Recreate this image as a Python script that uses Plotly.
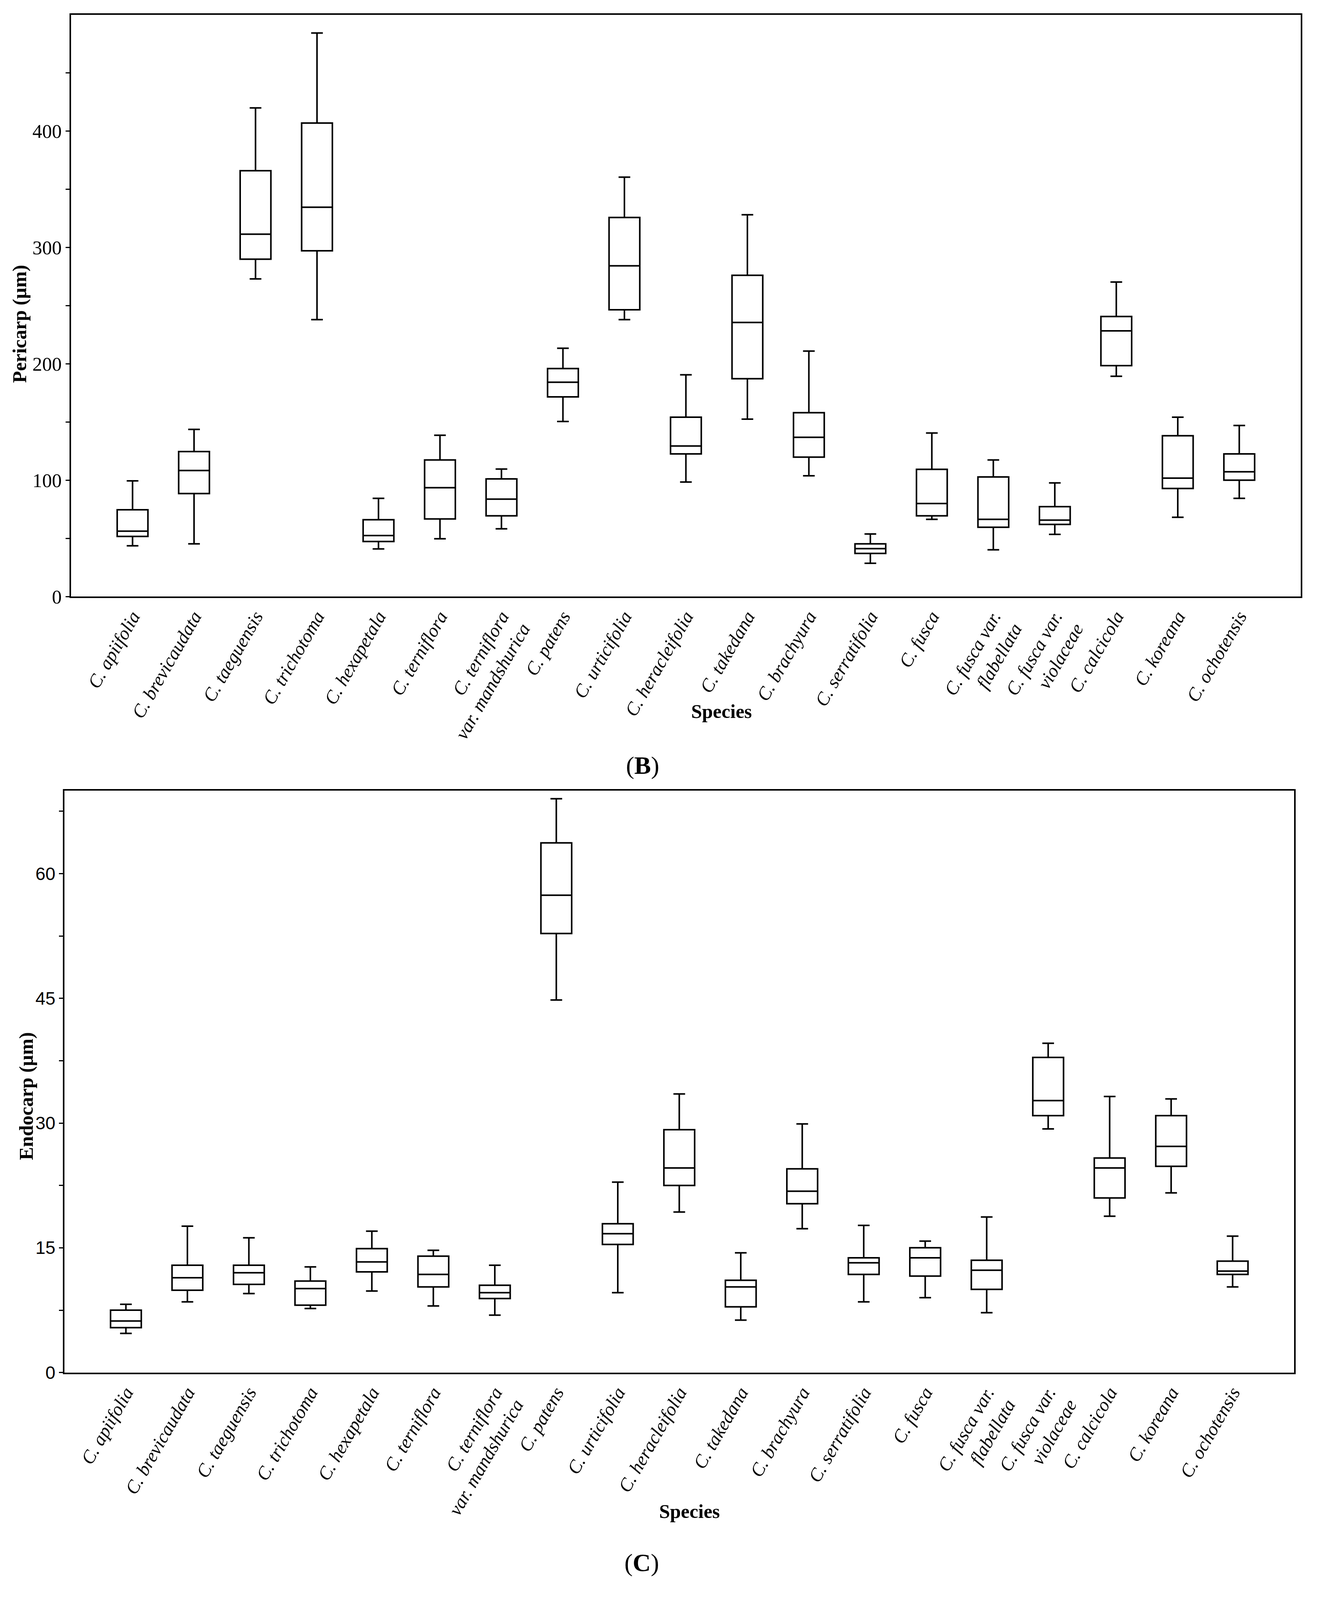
import plotly.graph_objects as go

# the photographed area is shorter than the reference, so the whole
# layout is laid out in reference pixels and squeezed to this height
W, REF_H = 3388, 4454
FIG_H = 4070
OFFSET = 8  # page margin of the html body

species = [
    "C. apiifolia", "C. brevicaudata", "C. taeguensis", "C. trichotoma",
    "C. hexapetala", "C. terniflora", "C. terniflora<br>var. mandshurica",
    "C. patens", "C. urticifolia", "C. heracleifolia", "C. takedana",
    "C. brachyura", "C. serratifolia", "C. fusca", "C. fusca var.<br>flabellata",
    "C. fusca var.<br>violaceae", "C. calcicola", "C. koreana", "C. ochotensis",
]
tick_labels = ["<i>" + s.replace("<br>", "</i><br><i>") + "</i>" for s in species]

# Pericarp (um) - panel B
peri_low = [43.6, 45.3, 273, 238, 40.9, 49.7, 58.2, 150.5, 238, 98.4,
            152.5, 103.8, 28.6, 66.4, 40.2, 53.4, 189.3, 68.1, 84.4]
peri_q1 = [51.7, 88.5, 290, 297.2, 47.3, 66.7, 69.4, 171.6, 246.5, 122.6,
           187.2, 119.8, 37.1, 69.4, 59.6, 62.0, 198.5, 92.9, 100.0]
peri_med = [56.2, 108.3, 311.5, 334.6, 52.4, 93.6, 83.7, 184.2, 284.3, 129.4,
            235.6, 136.9, 41.2, 80.0, 66.4, 65.7, 228.4, 101.8, 107.2]
peri_q3 = [74.6, 124.6, 366, 407, 66.0, 117.4, 101.1, 196, 325.8, 154.2,
           276.1, 158, 45.3, 109.3, 102.8, 77.3, 240.7, 138.2, 122.6]
peri_high = [99.4, 143.7, 420, 484.4, 84.4, 138.6, 109.6, 213.4, 360.5, 190.6,
             328.2, 211, 53.8, 140.6, 117.4, 97.7, 270.3, 154.2, 147.0]

# Endocarp (um) - panel C
endo_low = [4.7, 8.5, 9.5, 7.7, 9.8, 8.0, 6.9, 44.8, 9.6, 19.3,
            6.3, 17.3, 8.5, 9.0, 7.2, 29.3, 18.8, 21.6, 10.3]
endo_q1 = [5.4, 9.9, 10.6, 8.1, 12.1, 10.3, 8.9, 52.8, 15.4, 22.5,
           7.9, 20.3, 11.8, 11.6, 10.0, 30.9, 21.0, 24.8, 11.8]
endo_med = [6.2, 11.4, 12.0, 10.1, 13.3, 11.8, 9.6, 57.4, 16.7, 24.6,
            10.3, 21.8, 13.2, 13.8, 12.3, 32.7, 24.6, 27.2, 12.2]
endo_q3 = [7.5, 12.9, 12.9, 11.0, 14.9, 14.0, 10.5, 63.7, 17.9, 29.2,
           11.1, 24.5, 13.8, 15.0, 13.5, 37.9, 25.8, 30.9, 13.4]
endo_high = [8.2, 17.6, 16.2, 12.7, 17.0, 14.7, 12.9, 69.0, 22.9, 33.5,
             14.4, 29.9, 17.7, 15.8, 18.7, 39.6, 33.2, 32.9, 16.4]

SERIF = "Liberation Serif"
SANS = "Liberation Sans"


def px_x(v):
    return (v - OFFSET) / W


def px_y(v):
    return 1 - v / REF_H


box_style = dict(
    line=dict(color="black", width=4),
    fillcolor="white",
    whiskerwidth=0.38,
    width=0.5,
    boxpoints=False,
    showlegend=False,
    hoverinfo="skip",
)

fig = go.Figure()
fig.add_trace(go.Box(
    x=species, q1=peri_q1, median=peri_med, q3=peri_q3,
    lowerfence=peri_low, upperfence=peri_high,
    xaxis="x", yaxis="y", **box_style,
))
fig.add_trace(go.Box(
    x=species, q1=endo_q1, median=endo_med, q3=endo_q3,
    lowerfence=endo_low, upperfence=endo_high,
    xaxis="x2", yaxis="y2", **box_style,
))

xcommon = dict(
    type="category", range=[-1, len(species)],
    tickvals=species, ticktext=tick_labels, tickangle=-60,
    tickfont=dict(family=SERIF, size=48, color="black"),
    showline=True, mirror=True, linecolor="black", linewidth=4,
    ticks="", showgrid=False, zeroline=False,
)
ycommon = dict(
    showline=True, mirror=True, linecolor="black", linewidth=4,
    ticks="outside", ticklen=10, tickwidth=3, tickcolor="black",
    showgrid=False, zeroline=False,
)

fig.update_layout(
    width=W, height=FIG_H, autosize=False,
    margin=dict(l=0, r=0, t=0, b=0),
    paper_bgcolor="white", plot_bgcolor="white",
    xaxis=dict(domain=[px_x(182), px_x(3331)], anchor="y", **xcommon),
    yaxis=dict(
        domain=[px_y(1674), px_y(33)], anchor="x", range=[0, 500],
        tickvals=[0, 100, 200, 300, 400],
        minor=dict(tickvals=[50, 150, 250, 350, 450], ticks="outside",
                   ticklen=10, tickwidth=3, tickcolor="black"),
        tickfont=dict(family=SERIF, size=50, color="black"),
        **ycommon,
    ),
    xaxis2=dict(domain=[px_x(165), px_x(3314)], anchor="y2", **xcommon),
    yaxis2=dict(
        domain=[px_y(3863), px_y(2221)], anchor="x2", range=[0, 70],
        tickvals=[0, 15, 30, 45, 60],
        minor=dict(tickvals=[7.5, 22.5, 37.5, 52.5, 67.5], ticks="outside",
                   ticklen=10, tickwidth=3, tickcolor="black"),
        tickfont=dict(family=SANS, size=46, color="black"),
        **ycommon,
    ),
)

annotations = [
    dict(text="<b>Pericarp (µm)</b>", x=px_x(50), y=px_y(905), textangle=-90,
         font=dict(family=SERIF, size=50, color="black")),
    dict(text="<b>Endocarp (µm)</b>", x=px_x(67), y=px_y(3084), textangle=-90,
         font=dict(family=SERIF, size=50, color="black")),
    dict(text="<b>Species</b>", x=px_x(1848), y=px_y(1998),
         font=dict(family=SERIF, size=50, color="black")),
    dict(text="<b>Species</b>", x=px_x(1766), y=px_y(4255),
         font=dict(family=SERIF, size=50, color="black")),
    dict(text="(<b>B</b>)", x=px_x(1645), y=px_y(2150),
         font=dict(family=SERIF, size=64, color="black")),
    dict(text="(<b>C</b>)", x=px_x(1643), y=px_y(4400),
         font=dict(family=SERIF, size=64, color="black")),
]
for a in annotations:
    a.update(xref="paper", yref="paper", showarrow=False,
             xanchor="center", yanchor="middle")
fig.update_layout(annotations=annotations)

fig.write_html("out.html")
